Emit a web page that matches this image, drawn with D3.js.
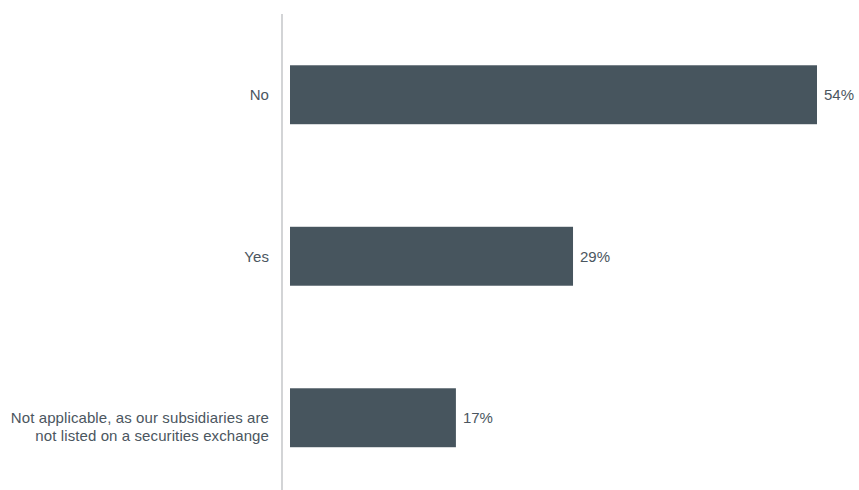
<!DOCTYPE html>
<html>
<head>
<meta charset="utf-8">
<script src="https://cdn.jsdelivr.net/npm/d3@7"></script>
<style>
  html, body { margin: 0; padding: 0; background: #ffffff; }
  svg { display: block; font-family: "Liberation Sans", Arial, Helvetica, sans-serif; }
</style>
</head>
<body>
<svg id="chart" width="859" height="490"></svg>
<script>
// Survey answers and their shares (percent)
const categories = [
  ["No"],
  ["Yes"],
  ["Not applicable, as our subsidiaries are", "not listed on a securities exchange"]
];
const values = [54, 29, 17];

const svg = d3.select("#chart");
const axisX = 282;
const barX0 = 290;

const x = d3.scaleLinear().domain([0, 54]).range([barX0, 817]);
const y = d3.scaleBand()
  .domain(d3.range(categories.length))
  .range([14, 498.5])
  .paddingInner(0.635)
  .paddingOuter(0.3175);

// Vertical baseline
svg.append("line")
  .attr("x1", axisX).attr("x2", axisX)
  .attr("y1", 14).attr("y2", 490)
  .attr("stroke", "#b5b8bb")
  .attr("stroke-width", 1.2);

// Bars
svg.selectAll("rect.bar")
  .data(values)
  .join("rect")
  .attr("class", "bar")
  .attr("x", x(0))
  .attr("y", (d, i) => y(i))
  .attr("width", d => x(d) - x(0))
  .attr("height", y.bandwidth())
  .attr("fill", "#47555e");

// Value labels
svg.selectAll("text.val")
  .data(values)
  .join("text")
  .attr("class", "val")
  .attr("x", d => x(d) + 7)
  .attr("y", (d, i) => y(i) + y.bandwidth() / 2)
  .attr("dy", "0.35em")
  .attr("font-size", 15)
  .attr("fill", "#4b5660")
  .text(d => d + "%");

// Category labels (right-aligned; extra lines run below the first)
const lineH = 17.5;
categories.forEach((lines, i) => {
  const cy = y(i) + y.bandwidth() / 2;
  const t = svg.append("text")
    .attr("text-anchor", "end")
    .attr("font-size", 15)
    .attr("letter-spacing", 0.1)
    .attr("fill", "#4b5660");
  lines.forEach((ln, j) => {
    t.append("tspan")
      .attr("x", 269)
      .attr("y", cy + j * lineH)
      .attr("dy", "0.35em")
      .text(ln);
  });
});
</script>
</body>
</html>
